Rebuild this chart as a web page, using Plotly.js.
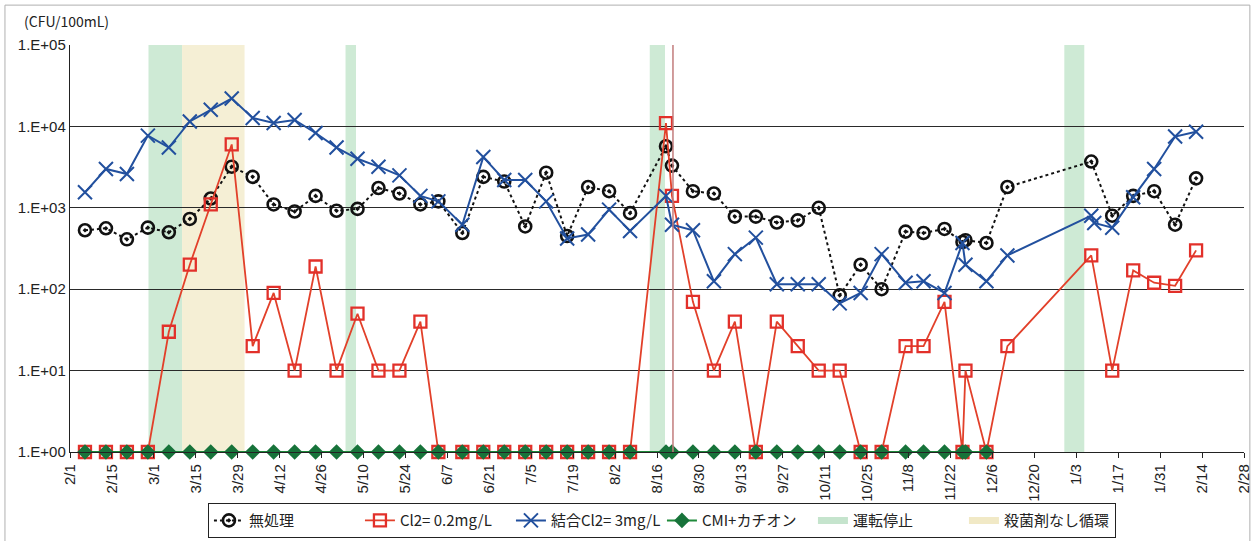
<!DOCTYPE html>
<html>
<head>
<meta charset="utf-8">
<script src="https://cdn.plot.ly/plotly-3.0.1.min.js"></script>
<style>
  html, body { margin: 0; padding: 0; background: #fff; }
  #chart { width: 1253px; height: 541px; }
</style>
</head>
<body>
<div id="chart"></div>
<script>
// Weekly sampling dates (Feb – following Feb)
const sampleDates = ['2009-02-06','2009-02-13','2009-02-20','2009-02-27','2009-03-06','2009-03-13','2009-03-20','2009-03-27',
  '2009-04-03','2009-04-10','2009-04-17','2009-04-24','2009-05-01','2009-05-08','2009-05-15','2009-05-22','2009-05-29',
  '2009-06-04','2009-06-12','2009-06-19','2009-06-26','2009-07-03','2009-07-10','2009-07-17','2009-07-24','2009-07-31',
  '2009-08-07','2009-08-19','2009-08-21','2009-08-28','2009-09-04','2009-09-11','2009-09-18','2009-09-25','2009-10-02',
  '2009-10-09','2009-10-16','2009-10-23','2009-10-30','2009-11-07','2009-11-13','2009-11-20','2009-11-26','2009-11-27',
  '2009-12-04','2009-12-11','2010-01-08','2010-01-15','2010-01-22','2010-01-29','2010-02-05','2010-02-12'];

// 無処理 (CFU/100mL)
const untreated = [530,560,410,570,500,730,1300,3200,2400,1100,900,1400,920,970,1750,1500,1100,
  1200,490,2400,2100,590,2700,450,1800,1600,860,5700,3300,1600,1500,780,780,660,700,
  1000,84,200,100,510,490,550,380,400,370,1800,3700,800,1400,1600,620,2300];

// Cl2 = 0.2 mg/L
const cl02 = [1,1,1,1,30,200,1100,6000,20,90,10,190,10,50,10,10,40,
  1,1,1,1,1,1,1,1,1,1,11000,1400,70,10,40,1,40,20,
  10,10,1,1,20,20,70,1,10,1,20,260,10,170,120,110,300];

// 結合Cl2 = 3 mg/L (one extra sample on 1/9)
const combinedDates = sampleDates.slice(0, 47).concat(['2010-01-09'], sampleDates.slice(47));
const combinedCl = [1550,3000,2600,7700,5500,11500,16000,22000,12700,11000,12000,8300,5500,4000,3200,2500,1400,
  1200,620,4200,2200,2200,1200,420,470,950,520,1400,620,530,125,270,430,115,115,
  115,67,90,270,120,125,90,370,200,125,260,800,650,570,1350,3000,7500,8600];

// CMI+カチオン
const cmiDates = sampleDates.slice(0, 45);
const cmiCation = cmiDates.map(() => 1);

// 運転停止 periods
const stopStart = ['2009-02-27 05:00','2009-05-04 00:00','2009-08-13 14:00','2009-12-30 00:00'];
const stopEnd   = ['2009-03-10 10:00','2009-05-07 12:00','2009-08-18 16:00','2010-01-05 16:00'];
// 殺菌剤なし循環 period
const noBiocideStart = ['2009-03-10 10:00'];
const noBiocideEnd   = ['2009-03-31 07:00'];
// Event marker line
const eventDates = ['2009-08-21 08:00'];

const yTickVals = [1, 10, 100, 1000, 10000, 100000];
const yTickText = ['1.E+00','1.E+01','1.E+02','1.E+03','1.E+04','1.E+05'];

const jpFont = '"Noto Sans CJK JP", "Noto Sans", sans-serif';
const tickFont = '"Liberation Sans Narrow", "Liberation Sans", Arial, sans-serif';

const traces = [
  {
    name: '無処理', x: sampleDates, y: untreated, type: 'scatter', mode: 'lines+markers', cliponaxis: false,
    line: { color: '#111', width: 2, dash: 'dot' },
    marker: { symbol: 'circle-open-dot', size: 12, color: '#111', line: { color: '#111', width: 2.6 } }
  },
  {
    name: 'Cl2= 0.2mg/L', x: sampleDates, y: cl02, type: 'scatter', mode: 'lines+markers', cliponaxis: false,
    line: { color: '#e2402a', width: 1.8 },
    marker: { symbol: 'square-open', size: 12, color: '#e2302a', line: { color: '#e2302a', width: 2.3 } }
  },
  {
    name: '結合Cl2= 3mg/L', x: combinedDates, y: combinedCl, type: 'scatter', mode: 'lines+markers', cliponaxis: false,
    line: { color: '#22509e', width: 2 },
    marker: { symbol: 'x-thin-open', size: 14, color: '#22509e', line: { color: '#22509e', width: 2 } }
  },
  {
    name: 'CMI+カチオン', x: cmiDates, y: cmiCation, type: 'scatter', mode: 'lines+markers', cliponaxis: false,
    line: { color: '#1f8a3a', width: 2 },
    marker: { symbol: 'diamond', size: 12, color: '#17733a' }
  },
  {
    name: '運転停止', x: [null], y: [null], type: 'scatter', mode: 'lines',
    line: { color: '#c5e4cd', width: 7 }
  },
  {
    name: '殺菌剤なし循環', x: [null], y: [null], type: 'scatter', mode: 'lines',
    line: { color: '#f1e9c6', width: 7 }
  }
];

const shapes = [];
stopStart.forEach((s, i) => shapes.push({
  type: 'rect', xref: 'x', yref: 'paper', x0: s, x1: stopEnd[i], y0: 0, y1: 1,
  fillcolor: '#a6d8b2', opacity: 0.55, line: { width: 0 }, layer: 'between'
}));
noBiocideStart.forEach((s, i) => shapes.push({
  type: 'rect', xref: 'x', yref: 'paper', x0: s, x1: noBiocideEnd[i], y0: 0, y1: 1,
  fillcolor: '#ede2b3', opacity: 0.55, line: { width: 0 }, layer: 'between'
}));
eventDates.forEach(d => shapes.push({
  type: 'line', xref: 'x', yref: 'paper', x0: d, x1: d, y0: 0, y1: 1,
  line: { color: '#c27c7c', width: 1.5 }, layer: 'above'
}));
// outer frame
shapes.push({
  type: 'rect', xref: 'paper', yref: 'paper', x0: -0.0554, x1: 1.005, y0: -0.235, y1: 1.098,
  line: { color: '#b0b0b0', width: 1 }, fillcolor: 'rgba(0,0,0,0)', layer: 'below'
});

const layout = {
  width: 1253, height: 541,
  margin: { l: 70, r: 9, t: 45, b: 89.3, autoexpand: false },
  paper_bgcolor: '#fff', plot_bgcolor: '#fff',
  showlegend: true,
  xaxis: {
    type: 'date',
    range: ['2009-02-01', '2010-02-28'],
    tickmode: 'linear', tick0: '2009-02-01', dtick: 14 * 86400000,
    tickformat: '%-m/%-d', tickangle: -90,
    ticks: 'outside', ticklen: 5, tickcolor: '#222',
    showgrid: false, zeroline: false,
    showline: true, linecolor: '#222', linewidth: 1.2,
    tickfont: { family: tickFont, size: 15, color: '#222' }
  },
  yaxis: {
    type: 'log', range: [0, 5],
    tickmode: 'array', tickvals: yTickVals, ticktext: yTickText,
    showgrid: true, gridcolor: '#2a2a2a', gridwidth: 1,
    showline: true, linecolor: '#222', linewidth: 1.2,
    ticks: '', zeroline: false,
    tickfont: { family: tickFont, size: 15, color: '#222' }
  },
  legend: {
    orientation: 'h', x: 0.1175, xanchor: 'left', y: 0.07, yanchor: 'top', yref: 'container',
    entrywidth: 106, entrywidthmode: 'pixels',
    bordercolor: '#222', borderwidth: 1, bgcolor: '#fff',
    font: { family: jpFont, size: 15, color: '#222' }
  },
  annotations: [{
    text: '(CFU/100mL)', xref: 'paper', yref: 'paper', x: -0.041, y: 1.06,
    xanchor: 'left', yanchor: 'middle', showarrow: false,
    font: { family: jpFont, size: 14, color: '#222' }
  }],
  shapes: shapes
};

Plotly.newPlot('chart', traces, layout, { displayModeBar: false, staticPlot: true });
</script>
</body>
</html>
